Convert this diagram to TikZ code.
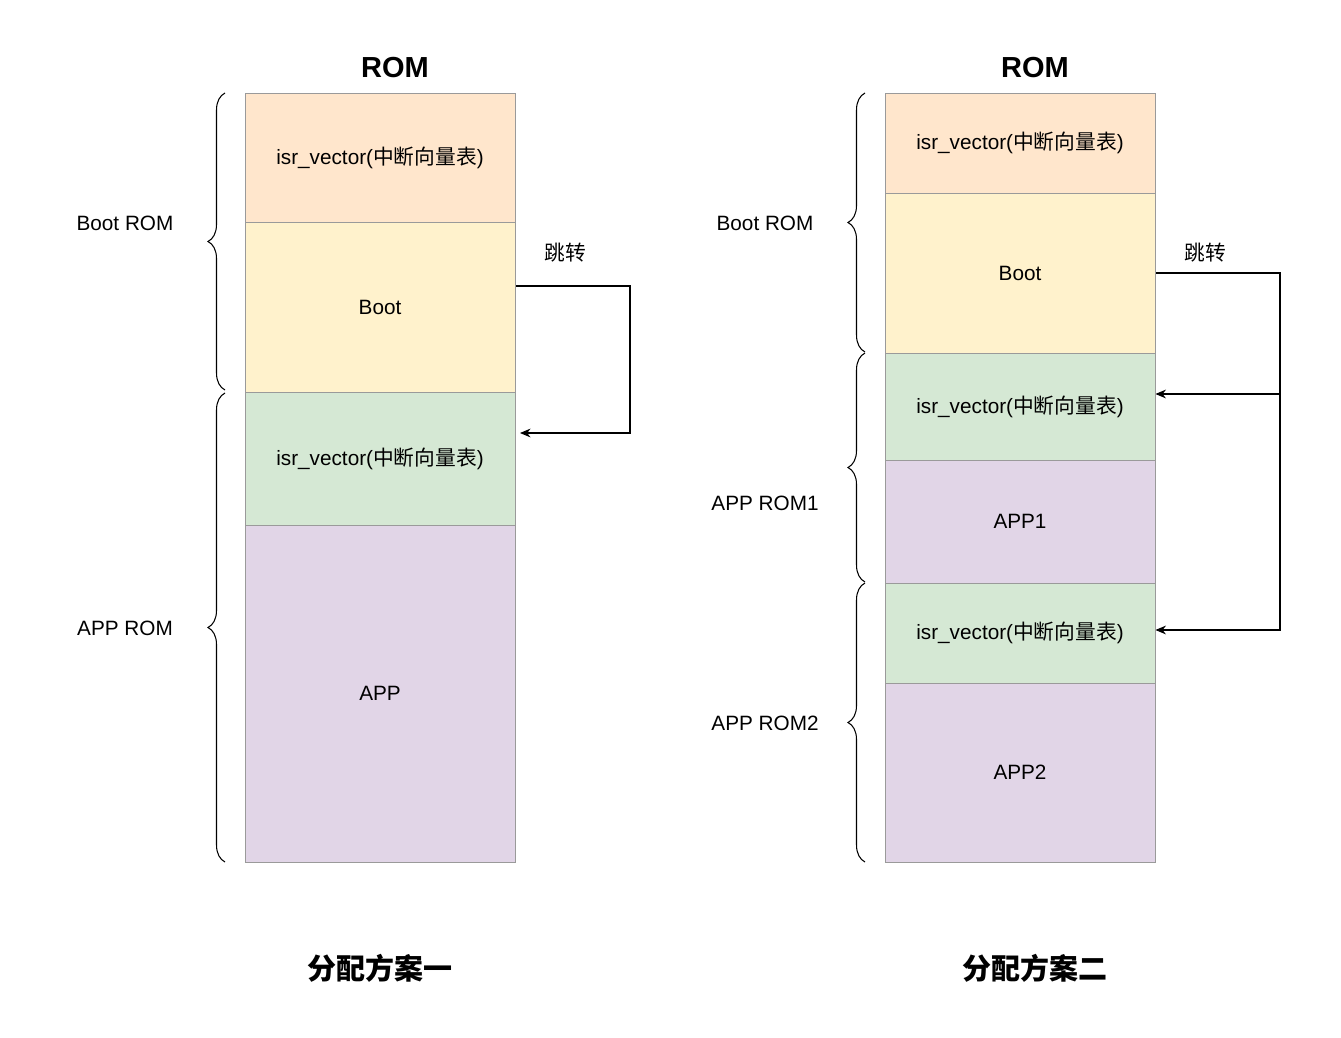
\documentclass[tikz,border=0pt]{standalone}
\usepackage{fontspec}
\setmainfont{Liberation Sans}
\newfontfamily\cjk{Noto Sans CJK SC}
\usepackage{tikz}
\usetikzlibrary{positioning,calc,backgrounds}
\usetikzlibrary{decorations.pathreplacing}
\usetikzlibrary{arrows.meta}
\pgfdeclarelayer{edgelayer}
\pgfdeclarelayer{nodelayer}
\pgfsetlayers{background,edgelayer,nodelayer,main}
\definecolor{vecfill}{HTML}{FFE6CC}
\definecolor{bootfill}{HTML}{FFF2CC}
\definecolor{appvec}{HTML}{D5E8D4}
\definecolor{appfill}{HTML}{E1D5E7}
\definecolor{seg}{HTML}{9A9A9A}
\newcommand{\zh}[1]{{\cjk #1}}
\newcommand{\isrtext}{isr\_vector(\zh{中断向量表})}
\tikzstyle{none}=[inner sep=0mm]
\tikzstyle{txt}=[inner sep=0mm,font=\fontsize{11.8}{14}\selectfont]
\tikzstyle{heading}=[inner sep=0mm,font=\fontsize{16.5}{20}\selectfont\bfseries]
\tikzstyle{rom}=[draw=seg,line width=0.5pt,minimum width=5.4cm,inner sep=0mm,font=\fontsize{11.8}{14}\selectfont]
\tikzstyle{vec}=[rom,fill=vecfill]
\tikzstyle{boot}=[rom,fill=bootfill]
\tikzstyle{avec}=[rom,fill=appvec]
\tikzstyle{app}=[rom,fill=appfill]
\tikzstyle{brc}=[decorate,decoration={brace,amplitude=0.34cm},line width=0.6pt]
\tikzstyle{jump}=[line width=0.6pt,-{Stealth[length=6pt,width=5pt]}]

\begin{document}
\begin{tikzpicture}[x=0.02cm,y=-0.02cm]
	\useasboundingbox (0,0) rectangle (1341,1037);
	\begin{pgfonlayer}{nodelayer}
		% scheme one
		\node [style=heading] (lrom) at (395, 68) {ROM};
		\node [style=vec, minimum height=2.58cm] (lisr) at (380, 157.5) {\isrtext};
		\node [style=boot, minimum height=3.4cm] (lboot) at (380, 307) {Boot};
		\node [style=avec, minimum height=2.66cm] (lisr2) at (380, 458.5) {\isrtext};
		\node [style=app, minimum height=6.74cm] (lapp) at (380, 693.5) {APP};
		\node [style=txt] (lbootrom) at (125, 223) {Boot ROM};
		\node [style=txt] (lapprom) at (125, 628) {APP ROM};
		\node [style=txt] (ljump) at (565, 253) {\zh{跳转}};
		\node [style=heading] (lname) at (380, 968) {\zh{分配方案一}};
		% scheme two
		\node [style=heading] (rrom) at (1035, 68) {ROM};
		\node [style=vec, minimum height=2cm] (risr) at (1020, 143) {\isrtext};
		\node [style=boot, minimum height=3.2cm] (rboot) at (1020, 273) {Boot};
		\node [style=avec, minimum height=2.14cm] (risr1) at (1020, 406.5) {\isrtext};
		\node [style=app, minimum height=2.46cm] (rapp1) at (1020, 521.5) {APP1};
		\node [style=avec, minimum height=2cm] (risr2) at (1020, 633) {\isrtext};
		\node [style=app, minimum height=3.58cm] (rapp2) at (1020, 772.5) {APP2};
		\node [style=txt] (rbootrom) at (765, 223) {Boot ROM};
		\node [style=txt] (rapprom1) at (765, 503) {APP ROM1};
		\node [style=txt] (rapprom2) at (765, 723) {APP ROM2};
		\node [style=txt] (rjump) at (1205, 253) {\zh{跳转}};
		\node [style=heading] (rname) at (1035, 968) {\zh{分配方案二}};
	\end{pgfonlayer}
	\begin{pgfonlayer}{edgelayer}
		% braces
		\draw [style=brc] (225, 390) to (225, 93);
		\draw [style=brc] (225, 862) to (225, 393);
		\draw [style=brc] (865, 352) to (865, 93);
		\draw [style=brc] (865, 582) to (865, 353);
		\draw [style=brc] (865, 862) to (865, 583);
		% jumps
		\coordinate (lcorner) at (630, 286);
		\coordinate (lend) at (520, 433);
		\draw [style=jump] (lboot.east |- lcorner) -- (lcorner) |- (lend);
		\coordinate (rcorner) at (1280, 273);
		\coordinate (rdown) at (1280, 630);
		\coordinate (rmid) at (1280, 394);
		\draw [style=jump] (rboot.east) -- (rcorner) -- (rdown) -- (risr2.east |- rdown);
		\draw [style=jump] (rmid) -- (risr1.east |- rmid);
	\end{pgfonlayer}
\end{tikzpicture}
\end{document}
